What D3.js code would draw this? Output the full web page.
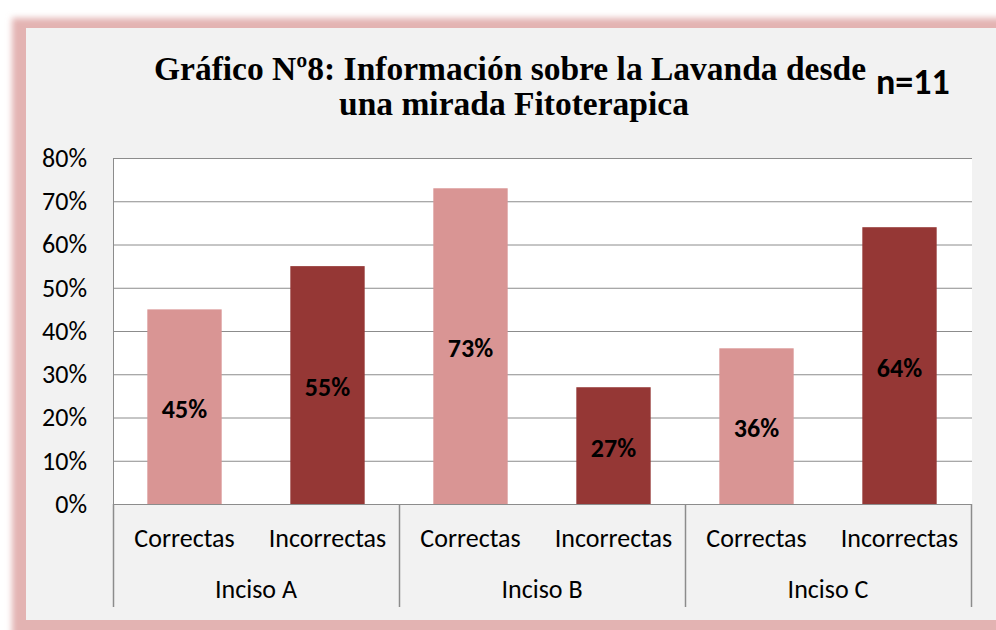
<!DOCTYPE html>
<html>
<head>
<meta charset="utf-8">
<script src="https://cdn.jsdelivr.net/npm/d3@7"></script>
<style>
  body { margin: 0; background: #fff; }
  svg { display: block; }
</style>
</head>
<body>
<svg id="chart" width="996" height="630"></svg>
<script>
// data
const groups = ['Inciso A', 'Inciso B', 'Inciso C'];
const answers = ['Correctas', 'Incorrectas'];
const correctas = [45, 73, 36];
const incorrectas = [55, 27, 64];
const yTicks = [0, 10, 20, 30, 40, 50, 60, 70, 80];
const titleLines = ['Gráfico Nº8: Información sobre la Lavanda desde', 'una mirada Fitoterapica'];
const sampleNote = 'n=11';

const colors = { Correctas: '#d99594', Incorrectas: '#953735' };

const plot = { left: 113, right: 972, top: 158, bottom: 504 };
const sans = 'Carlito, Calibri, Lato, sans-serif';
const serif = '"Palatino Linotype", "Book Antiqua", Palatino, "Liberation Serif", serif';
const fs = 26;

const svg = d3.select('#chart');

// frame with soft pink shadow
const defs = svg.append('defs');
defs.append('filter').attr('id', 'blur')
  .attr('x', '-5%').attr('y', '-5%').attr('width', '110%').attr('height', '110%')
  .append('feGaussianBlur').attr('stdDeviation', 3);

svg.append('rect')
  .attr('x', 12).attr('y', 18).attr('width', 1010).attr('height', 624)
  .attr('fill', '#e3b3b2')
  .attr('filter', 'url(#blur)');
svg.append('rect')
  .attr('x', 26).attr('y', 28).attr('width', 1000).attr('height', 592)
  .attr('fill', '#f2f2f2');

// scales
const x0 = d3.scaleBand().domain(groups).range([plot.left, plot.right - 1]);
const x1 = d3.scaleBand().domain(answers).range([0, x0.bandwidth()]).paddingInner(0.48).paddingOuter(0.24);
const xLabel = d3.scaleBand().domain(answers).range([0, x0.bandwidth()]);
const y = d3.scaleLinear().domain([0, 80]).range([plot.bottom, plot.top]);

// plot area
svg.append('rect')
  .attr('x', plot.left).attr('y', plot.top)
  .attr('width', plot.right - plot.left).attr('height', plot.bottom - plot.top)
  .attr('fill', '#fff');

// gridlines
svg.append('g')
  .selectAll('line')
  .data(yTicks)
  .join('line')
  .attr('x1', plot.left).attr('x2', plot.right)
  .attr('y1', d => y(d) + 0.5).attr('y2', d => y(d) + 0.5)
  .attr('stroke', '#8c8c8c').attr('stroke-width', 1);

// y axis
const yAxis = svg.append('g')
  .attr('transform', `translate(${plot.left},0)`)
  .call(d3.axisLeft(y).tickValues(yTicks).tickFormat(d => d + '%').tickSize(0).tickPadding(26));
yAxis.select('.domain').attr('stroke', '#8c8c8c');
yAxis.selectAll('text')
  .attr('font-family', sans).attr('font-size', fs).attr('fill', '#000');

// bars
const rows = groups.map((g, i) => ({ group: g, values: [
  { key: 'Correctas', value: correctas[i] },
  { key: 'Incorrectas', value: incorrectas[i] }
]}));

const gGroup = svg.append('g').selectAll('g')
  .data(rows)
  .join('g')
  .attr('transform', d => `translate(${x0(d.group)},0)`);

gGroup.selectAll('rect')
  .data(d => d.values)
  .join('rect')
  .attr('x', d => x1(d.key))
  .attr('width', x1.bandwidth())
  .attr('y', d => y(d.value))
  .attr('height', d => y(0) - y(d.value))
  .attr('fill', d => colors[d.key]);

gGroup.selectAll('text.val')
  .data(d => d.values)
  .join('text')
  .attr('class', 'val')
  .attr('x', d => x1(d.key) + x1.bandwidth() / 2)
  .attr('y', d => (y(d.value) + y(0)) / 2 + 11)
  .attr('text-anchor', 'middle')
  .attr('font-family', sans).attr('font-size', fs).attr('font-weight', 'bold')
  .attr('fill', '#000')
  .text(d => d.value + '%');

// category axis
const axisColor = '#8c8c8c';
svg.append('line')
  .attr('x1', plot.left).attr('x2', plot.right)
  .attr('y1', plot.bottom + 0.5).attr('y2', plot.bottom + 0.5)
  .attr('stroke', axisColor);

const seps = groups.map(g => x0(g)).concat([x0(groups[groups.length - 1]) + x0.bandwidth()]);
svg.append('g').selectAll('line')
  .data(seps)
  .join('line')
  .attr('x1', d => Math.round(d) + 0.5).attr('x2', d => Math.round(d) + 0.5)
  .attr('y1', plot.bottom).attr('y2', 607)
  .attr('stroke', axisColor).attr('stroke-width', 1.5);

gGroup.selectAll('text.cat')
  .data(d => d.values)
  .join('text')
  .attr('class', 'cat')
  .attr('x', d => xLabel(d.key) + xLabel.bandwidth() / 2)
  .attr('y', 547)
  .attr('text-anchor', 'middle')
  .attr('font-family', sans).attr('font-size', fs)
  .attr('fill', '#000')
  .text(d => d.key);

gGroup.append('text')
  .attr('x', x0.bandwidth() / 2)
  .attr('y', 598)
  .attr('text-anchor', 'middle')
  .attr('font-family', sans).attr('font-size', fs)
  .attr('fill', '#000')
  .text(d => d.group);

// title
const title = svg.append('text')
  .attr('font-family', serif).attr('font-weight', 'bold').attr('font-size', 33.5)
  .attr('fill', '#000')
  .attr('text-anchor', 'middle');
title.selectAll('tspan')
  .data(titleLines)
  .join('tspan')
  .attr('x', (d, i) => i === 0 ? 510 : 514)
  .attr('y', (d, i) => 80 + i * 35)
  .text(d => d);

svg.append('text')
  .attr('x', 876).attr('y', 94)
  .attr('font-family', sans).attr('font-weight', 'bold').attr('font-size', 36)
  .attr('fill', '#000')
  .text(sampleNote);
</script>
</body>
</html>
